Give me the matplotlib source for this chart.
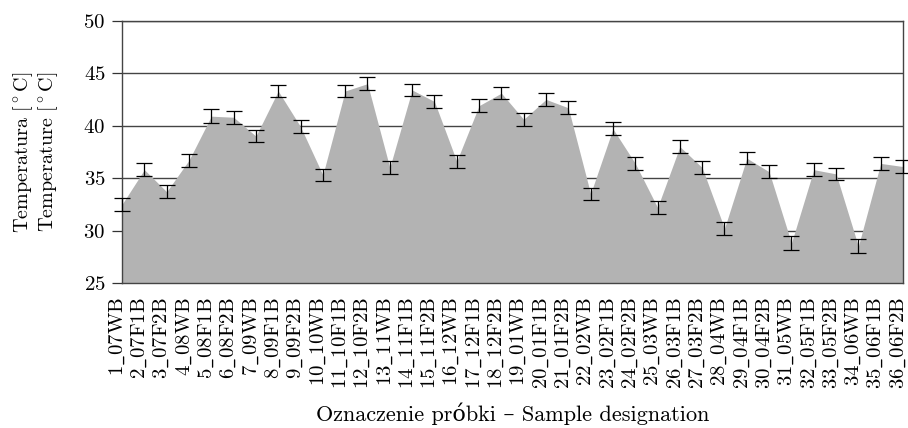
import matplotlib
matplotlib.use("Agg")
import matplotlib.pyplot as plt
import matplotlib.transforms as mtransforms

# Oznaczenia próbek i zmierzone temperatury (średnia i odchylenie)
probki = [
    "1_07WB", "2_07F1B", "3_07F2B", "4_08WB", "5_08F1B", "6_08F2B",
    "7_09WB", "8_09F1B", "9_09F2B", "10_10WB", "11_10F1B", "12_10F2B",
    "13_11WB", "14_11F1B", "15_11F2B", "16_12WB", "17_12F1B", "18_12F2B",
    "19_01WB", "20_01F1B", "21_01F2B", "22_02WB", "23_02F1B", "24_02F2B",
    "25_03WB", "26_03F1B", "27_03F2B", "28_04WB", "29_04F1B", "30_04F2B",
    "31_05WB", "32_05F1B", "33_05F2B", "34_06WB", "35_06F1B", "36_06F2B",
]
temperatura = [
    32.5, 35.8, 33.7, 36.7, 40.9, 40.8,
    39.0, 43.3, 39.9, 35.3, 43.3, 44.0,
    36.0, 43.4, 42.3, 36.6, 41.9, 43.1,
    40.6, 42.5, 41.7, 33.5, 39.7, 36.4,
    32.2, 38.0, 36.0, 30.2, 36.9, 35.6,
    28.8, 35.8, 35.4, 28.5, 36.4, 36.1,
]
odchylenie = [
    0.6, 0.6, 0.6, 0.6, 0.65, 0.6,
    0.6, 0.6, 0.6, 0.6, 0.6, 0.6,
    0.6, 0.6, 0.6, 0.6, 0.6, 0.6,
    0.6, 0.6, 0.6, 0.6, 0.6, 0.6,
    0.6, 0.6, 0.6, 0.6, 0.6, 0.6,
    0.65, 0.6, 0.6, 0.65, 0.6, 0.6,
]

plt.rcParams["font.family"] = ["cmr10", "DejaVu Serif"]
plt.rcParams["mathtext.fontset"] = "cm"
plt.rcParams["axes.unicode_minus"] = False
plt.rcParams["axes.formatter.use_mathtext"] = True

fig = plt.figure(figsize=(9.08, 4.28), dpi=100)
ax = fig.add_axes([0.1344, 0.3388, 0.8601, 0.6128])

x = list(range(len(probki)))

ax.fill_between(x, 25, temperatura, color="#b3b3b3", linewidth=0, zorder=2)
ax.errorbar(x, temperatura, yerr=odchylenie, fmt="none", ecolor="black",
            elinewidth=0.9, capsize=6, capthick=0.9, zorder=3, clip_on=False)

ax.set_xlim(0, len(probki) - 1)
ax.set_ylim(25, 50)
ax.set_yticks([25, 30, 35, 40, 45, 50])
ax.set_xticks(x)
# cmr10 nie ma podkreślnika, więc wstawiamy go przez mathtext
etykiety = [p.replace("_", r"$\_$") for p in probki]
ax.set_xticklabels(etykiety, rotation=90, fontsize=15)
ax.tick_params(axis="x", length=0, pad=10)
ax.tick_params(axis="y", length=7, width=0.9, labelsize=15, direction="out",
               color="#333333", pad=5)

# etykiety obrócone stoją linią bazową przy znaczniku, lekko w lewo
przesuniecie = mtransforms.ScaledTranslation(-0.05, 0, fig.dpi_scale_trans)
for etykieta in ax.get_xticklabels():
    etykieta.set_transform(etykieta.get_transform() + przesuniecie)

ax.grid(axis="y", color="#444444", linewidth=1.0, zorder=1)
ax.set_axisbelow(True)
for spine in ax.spines.values():
    spine.set_color("#444444")
    spine.set_linewidth(1.0)

ax.set_ylabel("Temperatura [$^\\circ$C]\nTemperature [$^\\circ$C]",
              fontsize=14.5, labelpad=17, linespacing=1.05)
ax.set_xlabel("Oznaczenie próbki – Sample designation",
              fontsize=16, labelpad=10)

fig.savefig("out.png", dpi=100)
plt.close(fig)
